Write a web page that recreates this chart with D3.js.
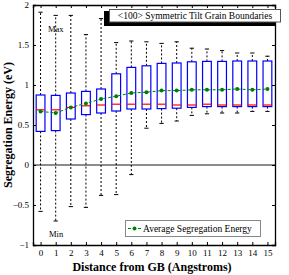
<html>
<head>
<meta charset="utf-8">
<script src="https://cdn.jsdelivr.net/npm/d3@7"></script>
<style>
body { margin: 0; background: #fff; }
text { font-family: "Liberation Serif", "Times New Roman", serif; }
</style>
</head>
<body>
<div id="chart"></div>
<script>
// distance from GB, one box per position
var dist = [0, 1, 2, 3, 4, 5, 6, 7, 8, 9, 10, 11, 12, 13, 14, 15];
var maxV = [1.91, 1.87, 1.87, 1.63, 1.83, 1.53, 1.55, 1.54, 1.52, 1.54, 1.46, 1.45, 1.43, 1.40, 1.40, 1.36];
var q3 = [0.875, 0.87, 0.90, 0.92, 0.95, 1.14, 1.22, 1.24, 1.27, 1.275, 1.29, 1.295, 1.295, 1.30, 1.30, 1.30];
var med = [0.69, 0.69, 0.72, 0.74, 0.75, 0.76, 0.76, 0.76, 0.76, 0.75, 0.75, 0.76, 0.75, 0.75, 0.75, 0.75];
var q1 = [0.42, 0.43, 0.575, 0.63, 0.65, 0.675, 0.70, 0.70, 0.705, 0.71, 0.72, 0.73, 0.73, 0.73, 0.73, 0.73];
var minV = [-0.58, -0.70, -0.52, -0.53, -0.38, -0.37, -0.12, 0.46, 0.52, 0.55, 0.62, 0.64, 0.65, 0.65, 0.67, 0.67];
var avg = [0.67, 0.65, 0.72, 0.77, 0.825, 0.86, 0.90, 0.91, 0.93, 0.93, 0.94, 0.94, 0.94, 0.95, 0.94, 0.95];
var yTicks = [-1, -0.5, 0, 0.5, 1, 1.5, 2];
var yTickLabels = ["\u22121", "\u22120.5", "0", "0.5", "1", "1.5", "2"];

var width = 289, height = 275;
var svg = d3.select("#chart").append("svg").attr("width", width).attr("height", height);

var x = d3.scaleLinear().domain([-0.5, 15.5]).range([33, 275]);
var y = d3.scaleLinear().domain([-1, 2]).range([245, 5]);
var hw = 0.29; // half box width in x units

var data = dist.map(function(d, i) {
  return { x: d, max: maxV[i], q3: q3[i], med: med[i], q1: q1[i], min: minV[i], avg: avg[i] };
});

// zero line
svg.append("line")
  .attr("x1", x(-0.5)).attr("x2", x(15.5))
  .attr("y1", y(0)).attr("y2", y(0))
  .attr("stroke", "#666").attr("stroke-width", 1.5);

// whiskers
var g = svg.append("g");
g.selectAll(".wup").data(data).enter().append("line")
  .attr("x1", function(d) { return x(d.x); }).attr("x2", function(d) { return x(d.x); })
  .attr("y1", function(d) { return y(d.q3); }).attr("y2", function(d) { return y(d.max); })
  .attr("stroke", "#000").attr("stroke-width", 1).attr("stroke-dasharray", "2,2");
g.selectAll(".wdn").data(data).enter().append("line")
  .attr("x1", function(d) { return x(d.x); }).attr("x2", function(d) { return x(d.x); })
  .attr("y1", function(d) { return y(d.q1); }).attr("y2", function(d) { return y(d.min); })
  .attr("stroke", "#000").attr("stroke-width", 1).attr("stroke-dasharray", "2,2");
["max", "min"].forEach(function(k) {
  g.selectAll(".cap" + k).data(data).enter().append("line")
    .attr("x1", function(d) { return x(d.x - 0.14); }).attr("x2", function(d) { return x(d.x + 0.14); })
    .attr("y1", function(d) { return y(d[k]); }).attr("y2", function(d) { return y(d[k]); })
    .attr("stroke", "#000").attr("stroke-width", 1);
});

// boxes
g.selectAll("rect.box").data(data).enter().append("rect")
  .attr("x", function(d) { return x(d.x - hw); })
  .attr("width", function(d) { return x(d.x + hw) - x(d.x - hw); })
  .attr("y", function(d) { return y(d.q3); })
  .attr("height", function(d) { return y(d.q1) - y(d.q3); })
  .attr("fill", "none").attr("stroke", "#0000ff").attr("stroke-width", 1.2);

// medians
g.selectAll(".med").data(data).enter().append("line")
  .attr("x1", function(d) { return x(d.x - hw); }).attr("x2", function(d) { return x(d.x + hw); })
  .attr("y1", function(d) { return y(d.med); }).attr("y2", function(d) { return y(d.med); })
  .attr("stroke", "#ff0000").attr("stroke-width", 1.2);

// average line
svg.append("path").datum(data)
  .attr("fill", "none").attr("stroke", "#008000").attr("stroke-width", 1)
  .attr("stroke-dasharray", "3,2")
  .attr("d", d3.line().x(function(d) { return x(d.x); }).y(function(d) { return y(d.avg); }));
svg.append("g").selectAll("circle").data(data).enter().append("circle")
  .attr("cx", function(d) { return x(d.x); }).attr("cy", function(d) { return y(d.avg); })
  .attr("r", 2).attr("fill", "#008000");

// axes
var axL = d3.axisLeft(y).tickValues(yTicks).tickSize(-3).tickPadding(4)
  .tickFormat(function(d, i) { return yTickLabels[i]; });
var axB = d3.axisBottom(x).tickValues(dist).tickSize(-3).tickPadding(5);
var axT = d3.axisTop(x).tickValues(dist).tickSize(-3).tickFormat("");
var axR = d3.axisRight(y).tickValues(yTicks).tickSize(-3).tickFormat("");

function styleAxis(sel) {
  sel.select(".domain").attr("stroke", "#000").attr("stroke-width", 1.3);
  sel.selectAll("text").attr("font-size", "9px").attr("fill", "#000")
    .style("font-family", "Liberation Serif, serif");
}
svg.append("g").attr("transform", "translate(" + x(15.5) + ",0)").call(axR).call(styleAxis);
svg.append("g").attr("transform", "translate(0," + y(2) + ")").call(axT).call(styleAxis);
svg.append("g").attr("transform", "translate(" + x(-0.5) + ",0)").call(axL).call(styleAxis);
svg.append("g").attr("transform", "translate(0," + y(-1) + ")").call(axB).call(styleAxis);

// axis titles
svg.append("text")
  .attr("x", 152).attr("y", 271)
  .attr("text-anchor", "middle").attr("font-size", "12px").attr("font-weight", "bold")
  .text("Distance from GB (Angstroms)");
svg.append("text")
  .attr("transform", "translate(12," + 125 + ") rotate(-90)")
  .attr("text-anchor", "middle").attr("font-size", "12px").attr("font-weight", "bold")
  .text("Segregation Energy (eV)");

// Max / Min labels
svg.append("text").attr("x", 48).attr("y", 32).attr("font-size", "8.5px").text("Max");
svg.append("text").attr("x", 49).attr("y", 237).attr("font-size", "8.5px").text("Min");

// title box with shadow
svg.append("rect").attr("x", 104).attr("y", 11).attr("width", 171).attr("height", 15).attr("fill", "#000");
svg.append("rect").attr("x", 109.5).attr("y", 9.5).attr("width", 171).attr("height", 12.5)
  .attr("fill", "#fff").attr("stroke", "#555").attr("stroke-width", 1);
svg.append("text").attr("x", 195).attr("y", 19).attr("text-anchor", "middle")
  .attr("font-size", "9.5px").text("<100> Symmetric Tilt Grain Boundaries");

// legend
var lg = svg.append("g");
lg.append("rect").attr("x", 125.5).attr("y", 220.5).attr("width", 135).attr("height", 16)
  .attr("fill", "#fff").attr("stroke", "#888").attr("stroke-width", 1);
lg.append("line").attr("x1", 128).attr("x2", 141).attr("y1", 228.5).attr("y2", 228.5)
  .attr("stroke", "#008000").attr("stroke-dasharray", "3,2");
lg.append("circle").attr("cx", 134.5).attr("cy", 228.5).attr("r", 2).attr("fill", "#008000");
lg.append("text").attr("x", 143).attr("y", 232).attr("font-size", "9.5px").text("Average Segregation Energy");
</script>
</body>
</html>
